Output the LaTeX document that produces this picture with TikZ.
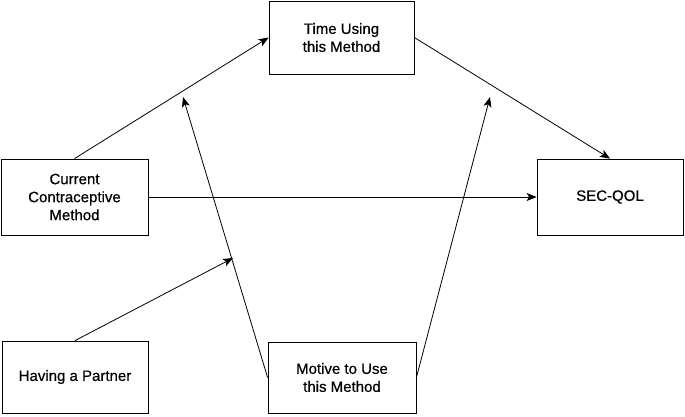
\documentclass[tikz,border=0pt]{standalone}
\usepackage{fontspec}
\setmainfont[FakeBold=0.5]{Liberation Sans}
\usetikzlibrary{arrows.meta}
\begin{document}
\begin{tikzpicture}[x=1pt,y=-1pt,line width=0.8pt,
  box/.style={draw,align=center,inner sep=0pt,font=\fontsize{15}{18}\selectfont},
  link/.style={-{Stealth[length=10pt,width=8pt,inset=2.5pt]}}]
\useasboundingbox (0,0) rectangle (685,416);
\node[box,minimum width=145,minimum height=73] (time) at (341.5,37.5) {Time Using\\this Method};
\node[box,minimum width=147,minimum height=76] (cur) at (74.5,197) {Current\\Contraceptive\\Method};
\node[box,minimum width=146,minimum height=76] (sec) at (610,197) {SEC-QOL};
\node[box,minimum width=146,minimum height=72] (part) at (75,377) {Having a Partner};
\node[box,minimum width=148,minimum height=71] (mot) at (342,377.5) {Motive to Use\\this Method};
\coordinate (pm) at (233,258);
\coordinate (ta) at (183,97);
\coordinate (tb) at (490,97);
\draw[link] (cur.north)--(time.west);
\draw[link] (cur.east)--(sec.west);
\draw[link] (time.east)--(sec.north);
\draw[link] (part.north)--(pm);
\draw[link] (mot.west)--(ta);
\draw[link] (mot.east)--(tb);
\end{tikzpicture}
\end{document}
